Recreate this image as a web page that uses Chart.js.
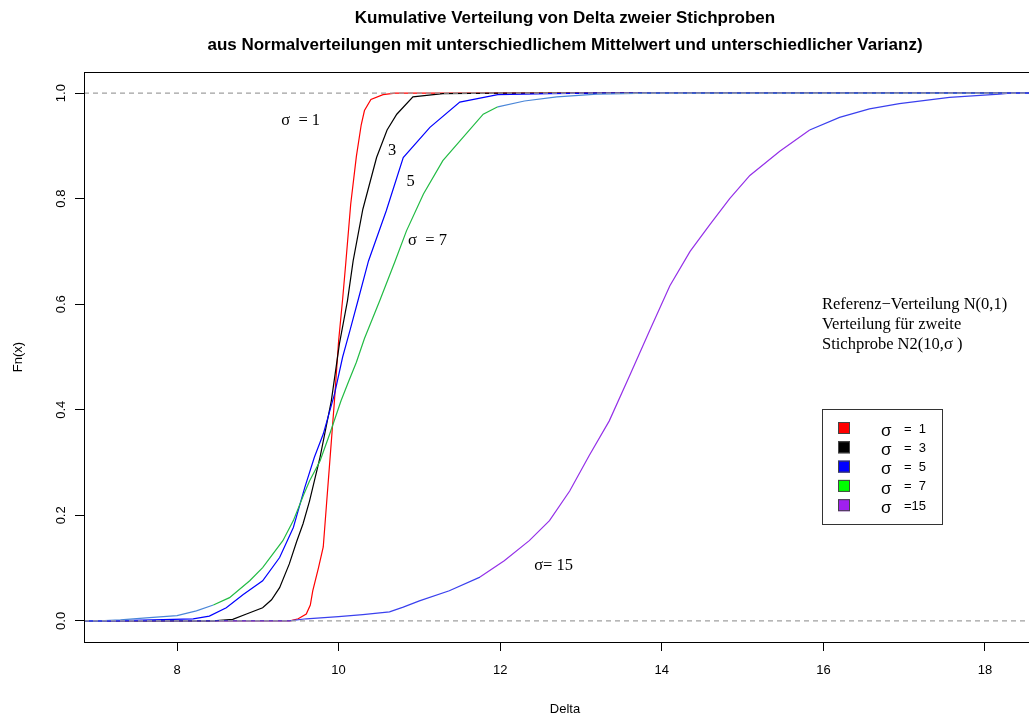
<!DOCTYPE html>
<html>
<head>
<meta charset="utf-8">
<script src="https://cdn.jsdelivr.net/npm/chart.js@4.4.0/dist/chart.umd.min.js"></script>
<style>
  body { margin: 0; overflow: hidden; background: #fff; }
  #wrap { width: 1080px; height: 717px; }
</style>
</head>
<body>
<div id="wrap"><canvas id="ecdf" width="1080" height="717"></canvas></div>
<script>
// Achsen
const xMin = 6.849, xMax = 18.755;
const yMin = -0.04, yMax = 1.04;
const xTicks = [8, 10, 12, 14, 16, 18];
const yTicks = [0, 0.2, 0.4, 0.6, 0.8, 1.0];

// sigma = 1
const s1X = [6.849, 9.40, 9.50, 9.60, 9.65, 9.68, 9.75, 9.81, 9.85, 9.88, 9.95, 10.00, 10.05, 10.09, 10.15, 10.22, 10.28, 10.32, 10.40, 10.55, 10.70, 18.755];
const s1F = [0, 0, 0.004, 0.013, 0.03, 0.057, 0.10, 0.14, 0.22, 0.28, 0.42, 0.53, 0.61, 0.68, 0.79, 0.88, 0.94, 0.967, 0.988, 0.997, 1, 1];
// sigma = 3
const s3X = [6.849, 8.45, 8.69, 8.86, 9.06, 9.17, 9.27, 9.39, 9.48, 9.56, 9.64, 9.77, 9.91, 10.01, 10.11, 10.18, 10.30, 10.47, 10.60, 10.72, 10.92, 11.29, 12.0, 18.755];
const s3F = [0, 0, 0.003, 0.013, 0.025, 0.04, 0.063, 0.108, 0.15, 0.184, 0.227, 0.31, 0.417, 0.525, 0.607, 0.682, 0.78, 0.878, 0.93, 0.96, 0.993, 0.999, 1, 1];
// sigma = 5
const s5X = [6.849, 7.17, 7.70, 8.20, 8.40, 8.61, 8.82, 9.06, 9.27, 9.44, 9.58, 9.70, 9.81, 9.95, 10.05, 10.14, 10.24, 10.37, 10.59, 10.80, 11.13, 11.50, 11.97, 12.6, 13.2, 18.755];
const s5F = [0, 0, 0.002, 0.004, 0.009, 0.025, 0.05, 0.076, 0.12, 0.177, 0.252, 0.31, 0.354, 0.43, 0.5, 0.55, 0.607, 0.682, 0.777, 0.878, 0.935, 0.983, 0.997, 0.999, 1, 1];
// sigma = 7
const s7X = [6.849, 7.04, 7.30, 7.66, 8.00, 8.24, 8.45, 8.65, 8.90, 9.06, 9.31, 9.44, 9.57, 9.64, 9.77, 9.89, 10.03, 10.12, 10.22, 10.32, 10.51, 10.70, 10.84, 11.05, 11.29, 11.54, 11.79, 11.97, 12.3, 12.7, 13.2, 13.85, 18.755];
const s7F = [0, 0, 0.002, 0.006, 0.01, 0.019, 0.03, 0.044, 0.076, 0.101, 0.152, 0.19, 0.24, 0.265, 0.303, 0.354, 0.417, 0.452, 0.49, 0.535, 0.607, 0.682, 0.739, 0.809, 0.872, 0.916, 0.96, 0.974, 0.985, 0.993, 0.998, 1, 1];
// sigma = 15
const s15X = [6.849, 9.39, 9.60, 10.0, 10.3, 10.63, 10.8, 11.0, 11.37, 11.75, 12.05, 12.36, 12.61, 12.86, 13.1, 13.35, 13.6, 13.85, 14.1, 14.35, 14.59, 14.84, 15.09, 15.46, 15.83, 16.2, 16.57, 16.94, 17.56, 18.18, 18.31, 18.755];
const s15F = [0, 0, 0.004, 0.008, 0.012, 0.017, 0.026, 0.038, 0.057, 0.083, 0.114, 0.152, 0.19, 0.246, 0.313, 0.379, 0.464, 0.55, 0.635, 0.70, 0.75, 0.80, 0.844, 0.89, 0.93, 0.954, 0.97, 0.98, 0.992, 0.998, 1, 1];

const legendLabels = ['= 1', '= 3', '= 5', '= 7', '=15'];
const legendColors = ['#ff0000', '#000000', '#0000ff', '#00ff00', '#a020f0'];

const pts = (xs, fs) => xs.map((x, i) => ({ x: x, y: fs[i] }));

// flache Stufen wirken blau, steile in der eigentlichen Farbe
const slopeColor = (steep, flat, limit) => ctx => {
  const dx = Math.abs(ctx.p1.x - ctx.p0.x);
  const dy = Math.abs(ctx.p1.y - ctx.p0.y);
  return dy < dx * limit ? flat : steep;
};

const curve = (label, xs, fs, color, order, seg) => ({
  label: label,
  data: pts(xs, fs),
  borderColor: color,
  borderWidth: 1.2,
  pointRadius: 0,
  tension: 0,
  fill: false,
  order: order,
  segment: seg ? { borderColor: seg } : undefined
});

const dashed = (y) => ({
  data: [{ x: xMin, y: y }, { x: xMax, y: y }],
  borderColor: '#a0a0a0',
  borderWidth: 1.2,
  borderDash: [5, 4],
  pointRadius: 0,
  order: 0
});

const textPlugin = {
  id: 'texte',
  afterDraw(chart) {
    const c = chart.ctx;
    const a = chart.chartArea;
    const xs = chart.scales.x, ys = chart.scales.y;
    c.save();
    c.fillStyle = '#000';
    c.strokeStyle = '#000';
    c.lineWidth = 1;
    // Rahmen
    c.strokeRect(a.left + 0.5, a.top + 0.5, a.right - a.left, a.bottom - a.top);

    // Titel
    c.font = 'bold 17px "Liberation Sans"';
    c.textAlign = 'center';
    c.textBaseline = 'middle';
    const cx = (a.left + a.right) / 2;
    c.fillText('Kumulative Verteilung von Delta zweier Stichproben', cx, 18);
    c.fillText('aus Normalverteilungen mit unterschiedlichem Mittelwert und unterschiedlicher Varianz)', cx, 45);

    // Achsentitel
    c.font = '13px "Liberation Sans"';
    c.fillText('Delta', cx, 709);
    c.save();
    c.translate(18, (a.top + a.bottom) / 2);
    c.rotate(-Math.PI / 2);
    c.fillText('Fn(x)', 0, 0);
    c.restore();

    // y-Beschriftung gedreht
    yTicks.forEach(v => {
      c.save();
      c.translate(61, ys.getPixelForValue(v));
      c.rotate(-Math.PI / 2);
      c.fillText(v.toFixed(1), 0, 0);
      c.restore();
    });

    // Kurvenbeschriftungen
    c.font = '16.5px "Liberation Serif"';
    c.textAlign = 'left';
    const put = (t, x, y) => c.fillText(t, xs.getPixelForValue(x), ys.getPixelForValue(y));
    put('\u03c3  = 1', 9.29, 0.948);
    put('3', 10.61, 0.891);
    put('5', 10.84, 0.832);
    put('\u03c3  = 7', 10.86, 0.72);
    put('\u03c3= 15', 12.42, 0.105);

    // Hinweis
    c.font = '16.5px "Liberation Serif"';
    c.fillText('Referenz\u2212Verteilung N(0,1)', 822, 305);
    c.fillText('Verteilung f\u00fcr zweite', 822, 325);
    c.fillText('Stichprobe N2(10,\u03c3 )', 822, 345);

    // Legende
    c.strokeStyle = '#333';
    c.strokeRect(822.5, 409.5, 120, 115);
    legendColors.forEach((col, i) => {
      const yy = 428 + i * 19.3;
      c.fillStyle = col;
      c.fillRect(838, yy - 6, 12, 12);
      c.strokeStyle = '#444';
      c.strokeRect(838.5, yy - 5.5, 11, 11);
      c.fillStyle = '#000';
      c.font = '17px "Liberation Sans"';
      c.fillText('\u03c3', 881, yy + 3);
      c.font = '13px "Liberation Sans"';
      c.fillText(legendLabels[i].replace('= ', '=  '), 904, yy + 1);
    });
    c.restore();
  }
};

new Chart(document.getElementById('ecdf'), {
  type: 'line',
  data: {
    datasets: [
      dashed(0),
      dashed(1),
      curve('\u03c3 = 1', s1X, s1F, '#ff0000', 10),
      curve('\u03c3 = 3', s3X, s3F, '#000000', 9),
      curve('\u03c3 = 5', s5X, s5F, '#0000ff', 8),
      curve('\u03c3 = 7', s7X, s7F, '#22bb44', 7, slopeColor('#22bb44', '#4a86d8', 0.35)),
      curve('\u03c3 = 15', s15X, s15F, '#9430e8', 6, slopeColor('#9430e8', '#3a40ee', 0.6))
    ]
  },
  plugins: [textPlugin],
  options: {
    responsive: false,
    animation: false,
    layout: { padding: { top: 72, right: 34, left: 0, bottom: 0 } },
    plugins: { legend: { display: false }, tooltip: { enabled: false }, title: { display: false } },
    scales: {
      x: {
        type: 'linear',
        min: xMin,
        max: xMax,
        afterBuildTicks: s => { s.ticks = xTicks.map(v => ({ value: v })); },
        afterFit: s => { s.height = 75; },
        border: { display: false },
        grid: { drawOnChartArea: false, drawTicks: true, tickLength: 9, color: '#000' },
        ticks: { color: '#000', padding: 12, maxRotation: 0, font: { family: 'Liberation Sans', size: 13 }, callback: v => String(v) }
      },
      y: {
        type: 'linear',
        min: yMin,
        max: yMax,
        afterBuildTicks: s => { s.ticks = yTicks.map(v => ({ value: v })); },
        afterFit: s => { s.width = 84; },
        border: { display: false },
        grid: { drawOnChartArea: false, drawTicks: true, tickLength: 9, color: '#000' },
        ticks: { display: false }
      }
    }
  }
});
</script>
</body>
</html>
